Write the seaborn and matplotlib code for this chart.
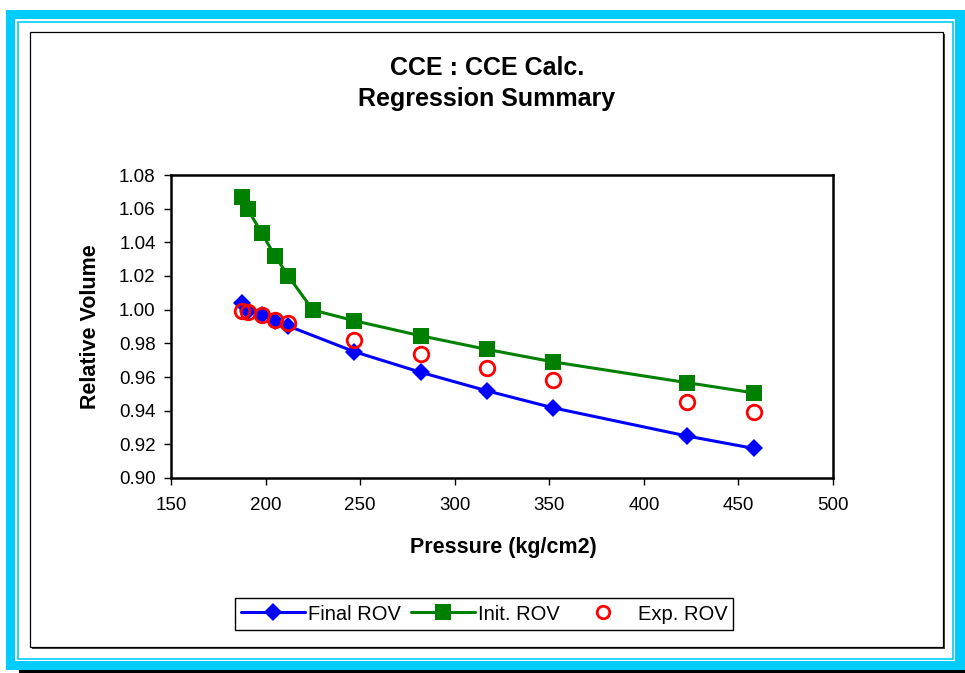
import numpy as np
import pandas as pd
import matplotlib
matplotlib.use("Agg")
import matplotlib.pyplot as plt
from matplotlib.patches import Rectangle
from matplotlib.lines import Line2D
import seaborn as sns

# ---- data ----
pressure = [187.5, 190.5, 198, 205, 212, 225, 247, 282, 317, 352, 423, 458]
final_rov = [1.0038, 0.9995, 0.9968, 0.9934, 0.9903, np.nan, 0.9750, 0.9628, 0.9518, 0.9417, 0.9249, 0.9176]
init_rov = [1.0667, 1.0598, 1.0454, 1.0319, 1.0200, 0.9998, 0.9934, 0.9845, 0.9764, 0.9690, 0.9566, 0.9506]
exp_rov = [0.9994, 0.9984, 0.9968, 0.9938, 0.9919, np.nan, 0.9820, 0.9735, 0.9655, 0.9582, 0.9453, 0.9394]
series_names = ["Final ROV", "Init. ROV", "Exp. ROV"]
x_ticks = [150, 200, 250, 300, 350, 400, 450, 500]
y_ticks = [0.90, 0.92, 0.94, 0.96, 0.98, 1.00, 1.02, 1.04, 1.06, 1.08]
title_lines = ["CCE : CCE Calc.", "Regression Summary"]
x_label = "Pressure (kg/cm2)"
y_label = "Relative Volume"

sns.set_theme(style="white")
plt.rcParams["font.family"] = ["Liberation Sans", "DejaVu Sans"]
plt.rcParams["text.color"] = "black"
plt.rcParams["axes.labelcolor"] = "black"
plt.rcParams["xtick.color"] = "black"
plt.rcParams["ytick.color"] = "black"

W, H = 965, 673
fig = plt.figure(figsize=(W / 100, H / 100), dpi=100)
fig.patch.set_facecolor("white")


def fx(px):
    return px / W


def fy(py):
    return 1 - py / H


def frect(x0, y0, x1, y1, z=-5, **kw):
    r = Rectangle((fx(x0), fy(y1)), fx(x1) - fx(x0), fy(y0) - fy(y1),
                  transform=fig.transFigure, zorder=z, **kw)
    fig.patches.append(r)
    return r


cyan = "#00CCFF"
# outer decorative frame
frect(19, 670, 965, 673, z=-10, facecolor="black", edgecolor="none")
frect(6, 10, 965, 670, z=-9, facecolor=cyan, edgecolor="none")
frect(15, 19, 955, 661, z=-8, facecolor="white", edgecolor="none")
frect(17.5, 21.5, 952.5, 658.5, z=-7, facecolor="white", edgecolor=cyan, linewidth=1.2)
# chart area frame with shadow
frect(32, 34, 945, 649, z=-6, facecolor="#444444", edgecolor="none")
frect(30, 32, 943, 647, z=-5, facecolor="white", edgecolor="black", linewidth=0.9)

# ---- axes ----
ax_l, ax_r, ax_t, ax_b = 171, 833, 175, 478
ax = fig.add_axes([fx(ax_l), fy(ax_b), fx(ax_r) - fx(ax_l), fy(ax_t) - fy(ax_b)])
ax.set_zorder(1)
ax.set_facecolor("white")

df = pd.DataFrame({"Pressure": pressure, "Final": final_rov, "Init": init_rov, "Exp": exp_rov})

sns.lineplot(data=df.dropna(subset=["Final"]), x="Pressure", y="Final", ax=ax,
             color="#0000FF", linewidth=2.2, marker="D", markersize=9.5,
             markeredgewidth=0, estimator=None, sort=False, zorder=3)
sns.lineplot(data=df, x="Pressure", y="Init", ax=ax,
             color="#008000", linewidth=2.2, marker="s", markersize=11,
             markeredgewidth=0, estimator=None, sort=False, zorder=2)
sns.lineplot(data=df.dropna(subset=["Exp"]), x="Pressure", y="Exp", ax=ax,
             color="#FF0000", linestyle="", marker="o", markersize=10.5,
             markerfacecolor="none", markeredgecolor="#FF0000", markeredgewidth=2.0,
             estimator=None, sort=False, zorder=4)

ax.set_xlim(150, 500)
ax.set_ylim(0.90, 1.08)
ax.set_xticks(x_ticks)
ax.set_xticklabels([str(t) for t in x_ticks])
ax.set_yticks(y_ticks)
ax.set_yticklabels([f"{t:.2f}" for t in y_ticks])
ax.tick_params(axis="both", direction="out", length=5, width=1, color="black",
               labelsize=13.5, labelcolor="black", left=True, bottom=True)
ax.tick_params(axis="y", pad=6)
ax.tick_params(axis="x", pad=9)
for s in ax.spines.values():
    s.set_visible(True)
    s.set_color("black")
    s.set_linewidth(1.8)
ax.grid(False)
ax.set_xlabel("")
ax.set_ylabel("")

# labels & title
fig.text(fx(503), fy(547), x_label, ha="center", va="center", fontsize=15.5, fontweight="bold", color="black")
fig.text(fx(90), fy(327), y_label, ha="center", va="center", fontsize=15.5,
         fontweight="bold", rotation=90, color="black")
fig.text(fx(487), fy(68), title_lines[0], ha="center", va="center", fontsize=18, fontweight="bold", color="black")
fig.text(fx(487), fy(99), title_lines[1], ha="center", va="center", fontsize=18, fontweight="bold", color="black")

# legend
handles = [
    Line2D([], [], color="#0000FF", linewidth=2.2, marker="D", markersize=9.5, markeredgewidth=0),
    Line2D([], [], color="#008000", linewidth=2.2, marker="s", markersize=11, markeredgewidth=0),
    Line2D([], [], color="#FF0000", linestyle="", marker="o", markersize=9,
           markerfacecolor="none", markeredgewidth=2.0),
]
leg = fig.legend(handles, series_names, loc="center",
                 bbox_to_anchor=(fx((236 + 732) / 2), fy(614)),
                 ncol=3, fontsize=14.5, frameon=True, fancybox=False,
                 edgecolor="black", framealpha=1, handlelength=3.2,
                 handletextpad=0.15, columnspacing=0.5, borderpad=0.3,
                 borderaxespad=0)
leg.get_frame().set_linewidth(1.0)
for t in leg.get_texts():
    t.set_color("black")

fig.savefig("out.png", dpi=100, facecolor="white")
